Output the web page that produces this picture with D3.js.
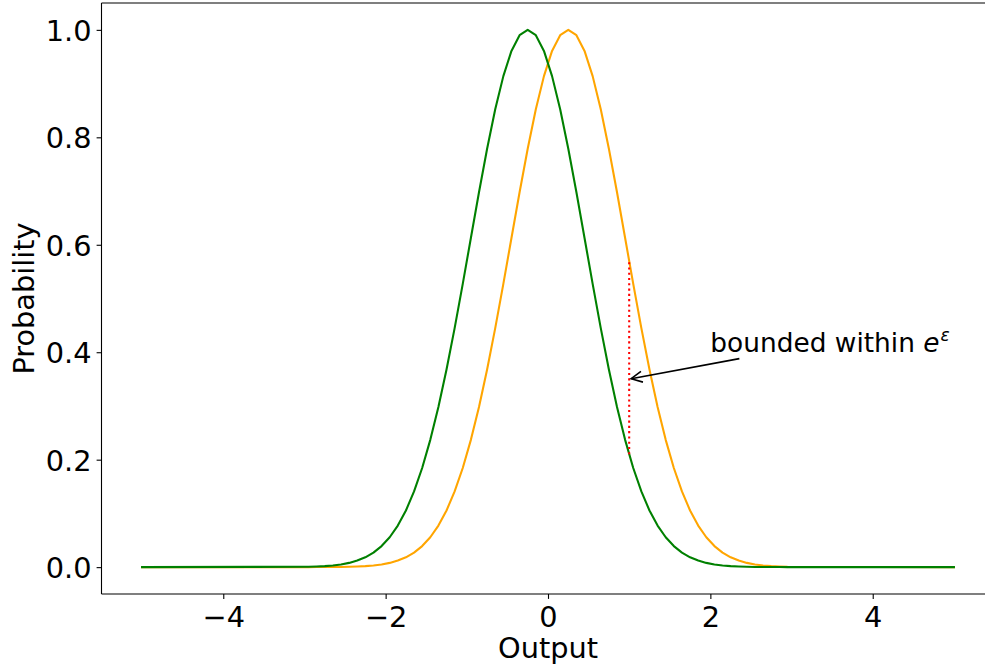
<!DOCTYPE html>
<html>
<head>
<meta charset="utf-8">
<script src="https://cdn.jsdelivr.net/npm/d3@7"></script>
<style>
  html, body { margin: 0; padding: 0; background: #ffffff; }
  svg { display: block; }
  text { font-family: "DejaVu Sans", sans-serif; fill: #000; }
</style>
</head>
<body>
<svg id="chart" width="985" height="670"></svg>
<script>
// Output grid shared by both response curves
const outputs = [
  -5.0,
  -2.95, -2.85, -2.75, -2.65, -2.55, -2.45, -2.35, -2.25, -2.15, -2.05,
  -1.95, -1.85, -1.75, -1.65, -1.55, -1.45, -1.35, -1.25, -1.15, -1.05,
  -0.95, -0.85, -0.75, -0.65, -0.55, -0.45, -0.35, -0.25, -0.15, -0.05,
   0.05,  0.15,  0.25,  0.35,  0.45,  0.55,  0.65,  0.75,  0.85,  0.95,
   1.05,  1.15,  1.25,  1.35,  1.45,  1.55,  1.65,  1.75,  1.85,  1.95,
   2.05,  2.15,  2.25,  2.35,  2.45,  2.55,  2.65,  2.75,  2.85,  2.95,
   5.0
];

// Probability of each output, dataset without the record (peak at -0.25)
const probGreen = [
  0.0000,
  0.0007, 0.0012, 0.0019, 0.0032, 0.0050, 0.0079, 0.0122, 0.0183, 0.0271, 0.0392,
  0.0556, 0.0773, 0.1054, 0.1409, 0.1845, 0.2369, 0.2982, 0.3679, 0.4449, 0.5273,
  0.6126, 0.6977, 0.7788, 0.8521, 0.9139, 0.9608, 0.9900, 1.0000, 0.9900, 0.9608,
  0.9139, 0.8521, 0.7788, 0.6977, 0.6126, 0.5273, 0.4449, 0.3679, 0.2982, 0.2369,
  0.1845, 0.1409, 0.1054, 0.0773, 0.0556, 0.0392, 0.0271, 0.0183, 0.0122, 0.0079,
  0.0050, 0.0032, 0.0019, 0.0012, 0.0007, 0.0004, 0.0002, 0.0001, 0.0001, 0.0000,
  0.0000
];

// Probability of each output, dataset with the record (peak at +0.25)
const probOrange = [
  0.0000,
  0.0000, 0.0001, 0.0001, 0.0002, 0.0004, 0.0007, 0.0012, 0.0019, 0.0032, 0.0050,
  0.0079, 0.0122, 0.0183, 0.0271, 0.0392, 0.0556, 0.0773, 0.1054, 0.1409, 0.1845,
  0.2369, 0.2982, 0.3679, 0.4449, 0.5273, 0.6126, 0.6977, 0.7788, 0.8521, 0.9139,
  0.9608, 0.9900, 1.0000, 0.9900, 0.9608, 0.9139, 0.8521, 0.7788, 0.6977, 0.6126,
  0.5273, 0.4449, 0.3679, 0.2982, 0.2369, 0.1845, 0.1409, 0.1054, 0.0773, 0.0556,
  0.0392, 0.0271, 0.0183, 0.0122, 0.0079, 0.0050, 0.0032, 0.0019, 0.0012, 0.0007,
  0.0000
];

// Tick values
const xTicks = [-4, -2, 0, 2, 4];
const yTicks = [0.0, 0.2, 0.4, 0.6, 0.8, 1.0];

// Gap marker at output 1 and its annotation
const gapOutput = 1;
const gapLow = 0.21;
const gapHigh = 0.57;
const arrowTarget = [1, 0.35];
const labelAnchor = [2, 0.4];

const svg = d3.select("#chart");

const plot = { left: 101.5, right: 994.5, top: 3, bottom: 594 };
const x = d3.scaleLinear().domain([-5.5, 5.5]).range([plot.left, plot.right]);
const y = d3.scaleLinear().domain([-0.05, 1.05]).range([plot.bottom, plot.top]);

const tickFont = 28.8;

// Curves
const line = d3.line().x(d => x(d[0])).y(d => y(d[1]));
const orangePts = outputs.map((o, i) => [o, probOrange[i]]);
const greenPts = outputs.map((o, i) => [o, probGreen[i]]);

svg.append("path").datum(orangePts)
  .attr("d", line).attr("fill", "none")
  .attr("stroke", "orange").attr("stroke-width", 2.08)
  .attr("stroke-linejoin", "round").attr("stroke-linecap", "square");

svg.append("path").datum(greenPts)
  .attr("d", line).attr("fill", "none")
  .attr("stroke", "green").attr("stroke-width", 2.08)
  .attr("stroke-linejoin", "round").attr("stroke-linecap", "square");

// Dotted red gap between the two curves
svg.append("line")
  .attr("x1", x(gapOutput)).attr("x2", x(gapOutput))
  .attr("y1", y(gapLow)).attr("y2", y(gapHigh))
  .attr("stroke", "red").attr("stroke-width", 2.08)
  .attr("stroke-dasharray", "2.08,3.2");

// Axes: frame spines
const spineW = 1.1;
svg.append("line").attr("x1", plot.left).attr("x2", plot.left)
  .attr("y1", plot.top).attr("y2", plot.bottom)
  .attr("stroke", "#000").attr("stroke-width", spineW);
svg.append("line").attr("x1", plot.left).attr("x2", plot.right)
  .attr("y1", plot.bottom).attr("y2", plot.bottom)
  .attr("stroke", "#000").attr("stroke-width", spineW);
svg.append("line").attr("x1", plot.left).attr("x2", plot.right)
  .attr("y1", plot.top).attr("y2", plot.top)
  .attr("stroke", "#000").attr("stroke-width", spineW);
svg.append("line").attr("x1", plot.right).attr("x2", plot.right)
  .attr("y1", plot.top).attr("y2", plot.bottom)
  .attr("stroke", "#000").attr("stroke-width", spineW);

// x axis
const xAxis = d3.axisBottom(x).tickValues(xTicks)
  .tickSize(4.9).tickPadding(6).tickFormat(d3.format("d"));
const gx = svg.append("g").attr("transform", `translate(0,${plot.bottom})`).call(xAxis);
gx.select(".domain").remove();
gx.selectAll(".tick line").attr("stroke", "#000").attr("stroke-width", 1.1);
gx.selectAll(".tick text")
  .attr("font-size", tickFont).attr("font-family", "DejaVu Sans, sans-serif")
  .attr("fill", "#000").attr("dy", null).attr("y", 32.7);

// y axis
const yAxis = d3.axisLeft(y).tickValues(yTicks)
  .tickSize(4.9).tickPadding(5).tickFormat(d3.format(".1f"));
const gy = svg.append("g").attr("transform", `translate(${plot.left},0)`).call(yAxis);
gy.select(".domain").remove();
gy.selectAll(".tick line").attr("stroke", "#000").attr("stroke-width", 1.1);
gy.selectAll(".tick text")
  .attr("font-size", tickFont).attr("font-family", "DejaVu Sans, sans-serif")
  .attr("fill", "#000").attr("dy", null).attr("y", 10.5).attr("x", -10);

// Axis titles
svg.append("text")
  .attr("x", (plot.left + plot.right) / 2).attr("y", 658.3)
  .attr("text-anchor", "middle").attr("font-size", tickFont)
  .text("Output");

svg.append("text")
  .attr("transform", `translate(33.5,${(plot.top + plot.bottom) / 2}) rotate(-90)`)
  .attr("text-anchor", "middle").attr("font-size", tickFont)
  .text("Probability");

// Annotation text
const label = svg.append("text")
  .attr("x", x(labelAnchor[0])).attr("y", y(labelAnchor[1]))
  .attr("font-size", 26.4);
label.append("tspan").text("bounded within ");
label.append("tspan").attr("font-style", "italic").text("e");
label.append("tspan").attr("font-style", "italic").attr("font-size", 17)
  .attr("dy", -11).attr("dx", 1).text("ε");

// Arrow from the label box to the gap marker
const bb = label.node().getBBox();
const cx = bb.x + bb.width / 2, cy = bb.y + bb.height / 2;
const tx = x(arrowTarget[0]), ty = y(arrowTarget[1]);
const dxv = tx - cx, dyv = ty - cy;
const len = Math.hypot(dxv, dyv);
const ux = dxv / len, uy = dyv / len;
// distance from centre to the box edge along the arrow direction
const tEdge = Math.min(
  Math.abs(ux) > 1e-9 ? (bb.width / 2) / Math.abs(ux) : Infinity,
  Math.abs(uy) > 1e-9 ? (bb.height / 2) / Math.abs(uy) : Infinity
);
const sx = cx + ux * (tEdge + 2), sy = cy + uy * (tEdge + 2);
const ex = tx - ux * 2, ey = ty - uy * 2;

svg.append("line")
  .attr("x1", sx).attr("y1", sy).attr("x2", ex).attr("y2", ey)
  .attr("stroke", "#000").attr("stroke-width", 1.6);

const headLen = 11, headHalf = 5.5;
const px = -uy, py = ux;
const hb = [ex - ux * headLen, ey - uy * headLen];
svg.append("path")
  .attr("d", `M${hb[0] + px * headHalf},${hb[1] + py * headHalf} L${ex},${ey} L${hb[0] - px * headHalf},${hb[1] - py * headHalf}`)
  .attr("fill", "none").attr("stroke", "#000").attr("stroke-width", 1.6)
  .attr("stroke-linejoin", "miter");
</script>
</body>
</html>
